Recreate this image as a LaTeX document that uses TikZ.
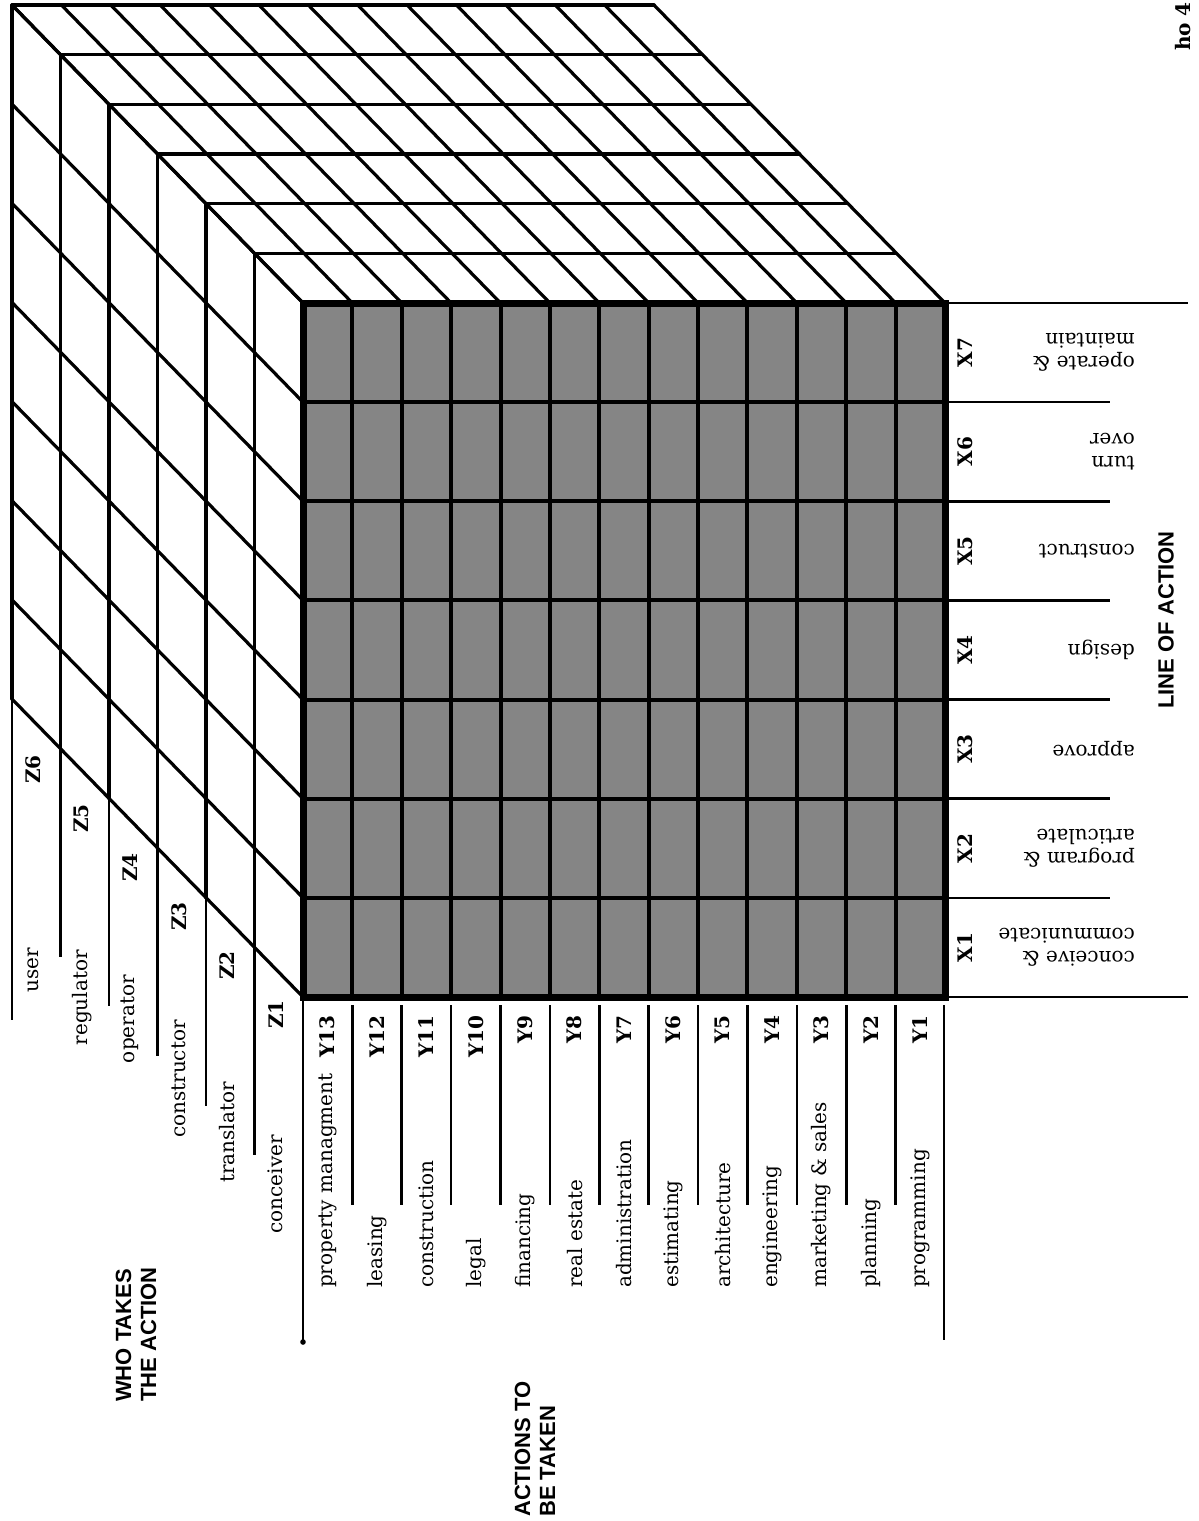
\documentclass[tikz,border=0pt]{standalone}
\usepackage{fontspec}
\setmainfont{DejaVu Serif}
\newfontfamily\headfont{Liberation Sans}
\begin{document}
\begin{tikzpicture}[x=1pt,y=-1pt,
  cubeline/.style={line width=3.2pt, line cap=round},
  faceline/.style={line width=4pt},
  borderline/.style={line width=7pt, line join=miter},
  sepline/.style={line width=2.6pt},
  facefill/.style={fill=black!48},
  lbl/.style={font=\fontsize{20}{23}\selectfont, inner sep=0pt},
  num/.style={font=\bfseries\fontsize{20}{23}\selectfont, inner sep=0pt},
  head/.style={font=\headfont\bfseries\fontsize{22}{25}\selectfont, inner sep=0pt, align=left}
]
\useasboundingbox (0,0) rectangle (1199,1521);
\fill[white] (0,0) rectangle (1199,1521);

% ---------- top face ----------
\foreach \k in {1,...,6}
  \draw[cubeline] ({303-\k*48.5},{303-\k*49.667}) -- ({945-\k*48.5},{303-\k*49.667});
\foreach \j in {0,...,13}
  \draw[cubeline] ({303+\j*49.385},303) -- ({303+\j*49.385-291},5);

% ---------- left face ----------
\foreach \k in {1,...,6}
  \draw[cubeline] ({303-\k*48.5},{303-\k*49.667}) -- ({303-\k*48.5},{997-\k*49.667});
\foreach \i in {0,...,7}
  \draw[cubeline] (303,{303+\i*99.143}) -- (12,{303+\i*99.143-298});

% ---------- front face ----------
\fill[facefill] (303,303) rectangle (945,997);
\foreach \j in {1,...,12}
  \draw[faceline] ({303+\j*49.385},303) -- ({303+\j*49.385},997);
\foreach \i in {1,...,6}
  \draw[faceline] (303,{303+\i*99.143}) -- (945,{303+\i*99.143});
\draw[borderline] (303,303) rectangle (945,997);

% ---------- X labels (right) ----------
\draw[sepline] (945,303) -- (1188,303);
\draw[sepline] (945,997) -- (1188,997);
\foreach \i in {1,...,6}
  \draw[sepline] (945,{303+\i*99.143}) -- (1110,{303+\i*99.143});
\foreach \t/\n [count=\i from 0] in {{operate \&\\maintain}/7, {turn\\over}/6, construct/5, design/4, approve/3, {program \&\\articulate}/2, {conceive \&\\communicate}/1}{
  \node[num, rotate=90] (xnum\n) at (965,{303+(\i+0.5)*99.143}) {X\n};
  \node[lbl, rotate=180, anchor=west, align=left] (xname\n) at (1135,{303+(\i+0.5)*99.143}) {\t};
}
\node[head, rotate=90] (lineofaction) at (1166,620) {LINE OF ACTION};

% ---------- Y labels (bottom) ----------
\foreach \j in {1,...,12}
  \draw[sepline] ({303+\j*49.385},1005) -- ({303+\j*49.385},1205);
\draw[sepline] (944,1005) -- (944,1340);
\coordinate (yend) at (303,1342);
\draw[sepline] (303,997) -- (yend);
\fill (yend) circle (2.8pt);
\foreach \t/\n [count=\j from 0] in {property managment/13, leasing/12, construction/11, legal/10, financing/9, real estate/8, administration/7, estimating/6, architecture/5, engineering/4, marketing \& sales/3, planning/2, programming/1}{
  \node[num, rotate=90, anchor=east] (ynum\n) at ({303+(\j+0.5)*49.385},1015) {Y\n};
  \node[lbl, rotate=90, anchor=west] (yname\n) at ({303+(\j+0.5)*49.385},1288) {\t};
}
\node[head, rotate=90, anchor=west] (actions) at (535,1517) {ACTIONS TO\\BE TAKEN};

% ---------- Z labels (left) ----------
\foreach \m in {1,...,5}
  \draw[sepline] ({303-\m*48.5},{997-\m*49.667}) -- ({303-\m*48.5},{997-\m*49.667+208});
\draw[sepline] (12,700) -- (12,1020);
\foreach \t/\n/\top [count=\k from 0] in {user/6/948, regulator/5/950, operator/4/975, constructor/3/1020, translator/2/1082, conceiver/1/1135}{
  \node[num, rotate=90, anchor=east] (znum\n) at ({12+(\k+0.5)*48.5-3},{755+49*\k}) {Z\n};
  \node[lbl, rotate=90, anchor=east] (zname\n) at ({12+(\k+0.5)*48.5-3},\top) {\t};
}
\node[head, rotate=90, anchor=west] (who) at (136,1402) {WHO TAKES\\THE ACTION};

% ---------- corner note ----------
\node[num, rotate=90, anchor=east] (note) at (1183,2) {ho 4};
\end{tikzpicture}
\end{document}
